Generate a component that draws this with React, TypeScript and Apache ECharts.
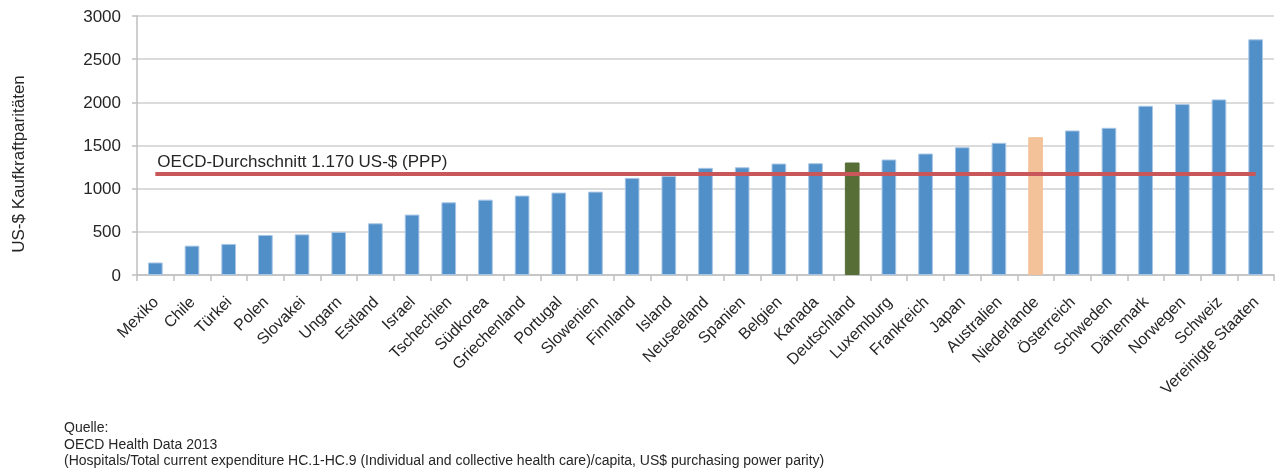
import React, { useEffect, useRef } from "react";
import * as echarts from "echarts";

const categories = [
  "Mexiko", "Chile", "Türkei", "Polen", "Slovakei", "Ungarn", "Estland", "Israel",
  "Tschechien", "Südkorea", "Griechenland", "Portugal", "Slowenien", "Finnland", "Island",
  "Neuseeland", "Spanien", "Belgien", "Kanada", "Deutschland", "Luxemburg", "Frankreich",
  "Japan", "Australien", "Niederlande", "Österreich", "Schweden", "Dänemark", "Norwegen",
  "Schweiz", "Vereinigte Staaten",
];

const values = [
  145, 340, 360, 464, 471, 499, 599, 700,
  842, 873, 920, 955, 966, 1125, 1148,
  1241, 1248, 1291, 1295, 1303, 1338, 1407,
  1480, 1531, 1597, 1674, 1705, 1960, 1980,
  2034, 2730,
];

const yTicks = [0, 500, 1000, 1500, 2000, 2500, 3000];
const oecdAverage = 1170;
const averageLabel = "OECD-Durchschnitt 1.170 US-$ (PPP)";
const yAxisName = "US-$ Kaufkraftparitäten";
const sourceLines = [
  "Quelle:",
  "OECD Health Data 2013",
  "(Hospitals/Total current expenditure HC.1-HC.9 (Individual and collective health care)/capita, US$ purchasing power parity)",
];

const highlightColors: Record<string, string> = {
  Deutschland: "#576F37",
  Niederlande: "#F3C299",
};

export default function App() {
  const ref = useRef<HTMLDivElement>(null);

  useEffect(() => {
    if (!ref.current) return;
    const chart = echarts.init(ref.current, undefined, { renderer: "svg" });
    const font = "Liberation Sans, Arial, sans-serif";
    chart.setOption({
      animation: false,
      textStyle: { fontFamily: font },
      grid: { left: 137, right: 5, top: 16, bottom: 195, containLabel: false },
      xAxis: {
        type: "category",
        data: categories,
        axisLine: { show: true, lineStyle: { color: "#BFBFBF", width: 1.5 } },
        axisTick: { show: true, length: 6, lineStyle: { color: "#BFBFBF", width: 1.5 } },
        axisLabel: {
          interval: 0,
          rotate: 45,
          color: "#262626",
          fontSize: 16,
          fontFamily: font,
          margin: 24,
        },
      },
      yAxis: {
        type: "value",
        min: yTicks[0],
        max: yTicks[yTicks.length - 1],
        interval: 500,
        axisLine: { show: true, lineStyle: { color: "#BFBFBF", width: 1.5 } },
        axisTick: { show: true, length: 5, lineStyle: { color: "#BFBFBF", width: 1.5 } },
        splitLine: { show: true, lineStyle: { color: "#CFCFCF", width: 1.5 } },
        axisLabel: {
          color: "#262626",
          fontSize: 17,
          fontFamily: font,
          margin: 16,
          formatter: (v: number) => String(v),
        },
      },
      series: [
        {
          type: "bar",
          barWidth: "40%",
          data: values.map((v, i) => {
            const c = highlightColors[categories[i]];
            return c ? { value: v, itemStyle: { color: c, borderColor: c } } : v;
          }),
          itemStyle: { color: "#508FC7", borderColor: "#A8C6E6", borderWidth: 1 },
          markLine: {
            silent: true,
            symbol: ["none", "none"],
            lineStyle: { color: "#C9575A", width: 4, type: "solid" },
            label: {
              show: true,
              position: "insideStartTop",
              formatter: averageLabel,
              color: "#262626",
              fontSize: 17,
              fontFamily: font,
              distance: [2, 4],
            },
            data: [
              [
                { coord: [categories[0], oecdAverage] },
                { coord: [categories[categories.length - 1], oecdAverage] },
              ],
            ],
          },
        },
      ],
      graphic: [
        {
          type: "text",
          x: 18,
          y: 164,
          rotation: Math.PI / 2,
          style: {
            text: yAxisName,
            fill: "#262626",
            font: `17px ${font}`,
            align: "center",
            verticalAlign: "middle",
          },
        },
        ...sourceLines.map((t, i) => ({
          type: "text",
          x: 64,
          y: 427 + i * 16.5,
          style: {
            text: t,
            fill: "#262626",
            font: `14px ${font}`,
            align: "left",
            verticalAlign: "middle",
          },
        })),
      ],
    });
    return () => chart.dispose();
  }, []);

  return (
    <div
      ref={ref}
      style={{ position: "fixed", left: 0, top: 0, width: 1279, height: 470 }}
    />
  );
}
